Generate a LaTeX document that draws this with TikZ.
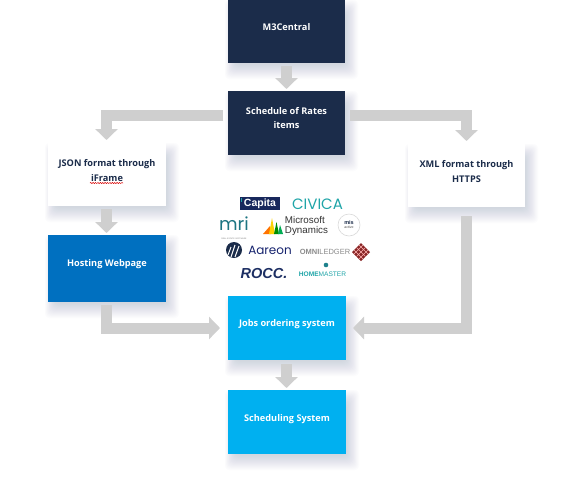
\documentclass[tikz,border=0pt]{standalone}
\usepackage{fontspec}
\setmainfont{Open Sans}
\newfontfamily\logofont{Poppins}
\newfontfamily\lsans{Liberation Sans}
\usetikzlibrary{arrows.meta,backgrounds,calc,decorations.pathmorphing}
\definecolor{navy}{HTML}{1B2C4A}
\definecolor{hostblue}{HTML}{0070C0}
\definecolor{skyblue}{HTML}{00B0F0}
\definecolor{arrowgrey}{HTML}{CFCFCF}
\definecolor{shadowc}{HTML}{5A6A9A}
\definecolor{teal1}{HTML}{1FA5A8}
\definecolor{rocc}{HTML}{1D2F63}
\tikzset{
  box/.style={minimum width=117pt,minimum height=63pt,inner sep=0pt,outer sep=0pt,draw=none},
  ltext/.style={font=\bfseries\fontsize{9.2pt}{14.5pt}\selectfont,align=center,yshift=4pt,inner sep=0pt},
  blockarrow/.style={draw=arrowgrey,line width=11pt,-{Triangle[width=22pt,length=11pt,sep=0pt]}},
  logotext/.style={inner sep=0pt,outer sep=0pt}
}
\newcommand\softshadow[1]{%
  \foreach \i in {0,...,15}{%
    \fill[shadowc,opacity=.015,rounded corners=4pt]
      ([shift={(-3+\i*.7,0+\i*.9)}]#1.north west) rectangle
      ([shift={(13-\i*.85,16-\i*1.0)}]#1.south east);
  }%
}
\begin{document}
\begin{tikzpicture}[x=1pt,y=-1pt]
\useasboundingbox (0,0) rectangle (583,483);
\node[box,fill=navy,minimum height=63pt,label={[ltext,white]center:M3Central}] (m3) at (286.5,31.5) {};
\node[box,fill=navy,minimum height=64pt,label={[ltext,white,yshift=1pt]center:Schedule of Rates\\items}] (rates) at (286.5,123) {};
\node[box,fill=white,minimum width=118pt,label={[ltext,navy]center:JSON format through\\iFrame}] (json) at (107,174.5) {};
\node[box,fill=white,minimum width=117pt,label={[ltext,navy]center:XML format through\\HTTPS}] (xml) at (466.5,175.5) {};
\node[box,fill=hostblue,minimum width=118pt,minimum height=67pt,label={[ltext,white]center:Hosting Webpage}] (host) at (107,268.5) {};
\node[box,fill=skyblue,minimum width=118pt,minimum height=64pt,label={[ltext,white]center:Jobs ordering system}] (jobs) at (287,328) {};
\node[box,fill=skyblue,minimum width=118pt,minimum height=64pt,label={[ltext,white,yshift=-1pt]center:Scheduling System}] (sched) at (287,422) {};
\begin{scope}[on background layer]
  \fill[white] (0,0) rectangle (583,483);
  \softshadow{m3}\softshadow{rates}\softshadow{json}\softshadow{xml}
  \softshadow{host}\softshadow{jobs}\softshadow{sched}
\end{scope}
% red spell-check squiggle under iFrame
\coordinate (sqa) at (90,183);
\coordinate (sqb) at (123,183);
\draw[red!85!black,line width=.5pt,decorate,decoration={snake,amplitude=.6pt,segment length=2.4pt}] (sqa) -- (sqb);
% connectors
\draw[blockarrow,shorten <=3pt,shorten >=2pt] (m3.south) -- (rates.north);
\draw[blockarrow,shorten <=5pt,shorten >=3pt] ([yshift=7.5pt]rates.west) -| ([xshift=-.5pt]json.north);
\draw[blockarrow,shorten <=5pt,shorten >=3pt] ([yshift=7.5pt]rates.east) -| (xml.north);
\draw[blockarrow,shorten <=3pt,shorten >=2pt] ([xshift=-.5pt]json.south) -- ([xshift=-.5pt]host.north);
\draw[blockarrow,shorten <=3pt,shorten >=8pt] ([xshift=-.5pt]host.south) |- (jobs.west);
\draw[blockarrow,shorten <=9pt,shorten >=7pt] (xml.south) |- (jobs.east);
\draw[blockarrow,shorten <=4pt,shorten >=2pt] ([xshift=-.5pt]jobs.south) -- ([xshift=-.5pt]sched.north);
% logos
\node[logotext,fill=navy!90!blue,text=white,font=\lsans\bfseries\fontsize{10.5pt}{10pt}\selectfont,minimum width=40pt,minimum height=13pt] (capita) at (260,203.5) {Capita};
\fill[teal1] (240.6,197.6) rectangle (242,201.5);
\node[logotext,text=teal1,font=\logofont\fontsize{15pt}{15pt}\selectfont] (civica) at (317.5,204) {CIVICA};
\node[logotext,text=teal1!60!navy,font=\logofont\fontsize{18pt}{18pt}\selectfont] (mri) at (234,224) {mri};
\node[logotext,text=gray,font=\lsans\fontsize{2pt}{2pt}\selectfont] (mrisub) at (234,238.5) {REAL ESTATE SOFTWARE};
\fill[orange!90!red] (263,234) -- (270,226) -- (271,234) -- cycle;
\fill[yellow!70!orange] (269,234) -- (272,218) -- (275,234) -- cycle;
\fill[green!55!black] (274,234) -- (276.5,222) -- (279,234) -- cycle;
\fill[green!35!teal] (278,234) -- (280,225) -- (283,234) -- cycle;
\node[logotext,text=black!80,font=\lsans\fontsize{9.8pt}{9.5pt}\selectfont,align=left] (msd) at (306.5,226) {Microsoft\\Dynamics};
\draw[black!15,fill=white,line width=.6pt] (349,225) circle (11pt);
\node[logotext,text=navy,font=\lsans\bfseries\fontsize{5.5pt}{5.5pt}\selectfont] (mis) at (349,222.5) {mis};
\node[logotext,text=black!70,font=\lsans\fontsize{3.5pt}{3.5pt}\selectfont] (misa) at (349,227.5) {active};
\fill[navy] (234,250) circle (8pt);
\draw[white,line width=1pt] (231,257) -- (235,245) (235,257) -- (239,246) (228,255) -- (231,247);
\node[logotext,text=navy!80!blue,font=\logofont\fontsize{12pt}{12pt}\selectfont] (aareon) at (270,250.5) {Aareon};
\node[logotext,text=black!45,font=\lsans\fontsize{7.5pt}{8pt}\selectfont] (omni) at (325,252) {\textbf{OMNI}LEDGER};
\fill[red!45!black!85] (361,243) -- (370,252) -- (361,261) -- (352,252) -- cycle;
\draw[white!70!red,line width=.4pt] (356.5,247.5) -- (365.5,256.5) (359,245) -- (368,254) (354,250) -- (363,259) (365.5,247.5) -- (356.5,256.5) (363,245) -- (354,254) (368,250) -- (359,259);
\node[logotext,text=rocc,font=\lsans\bfseries\itshape\fontsize{14.5pt}{15pt}\selectfont] (roccl) at (264,273.5) {ROCC.};
\fill[teal1!70!navy] (326,265) circle (2.3pt);
\node[logotext,text=teal1,font=\lsans\bfseries\fontsize{6.6pt}{8pt}\selectfont] (home) at (322.5,274) {HOME\mdseries MASTER};
\end{tikzpicture}
\end{document}
